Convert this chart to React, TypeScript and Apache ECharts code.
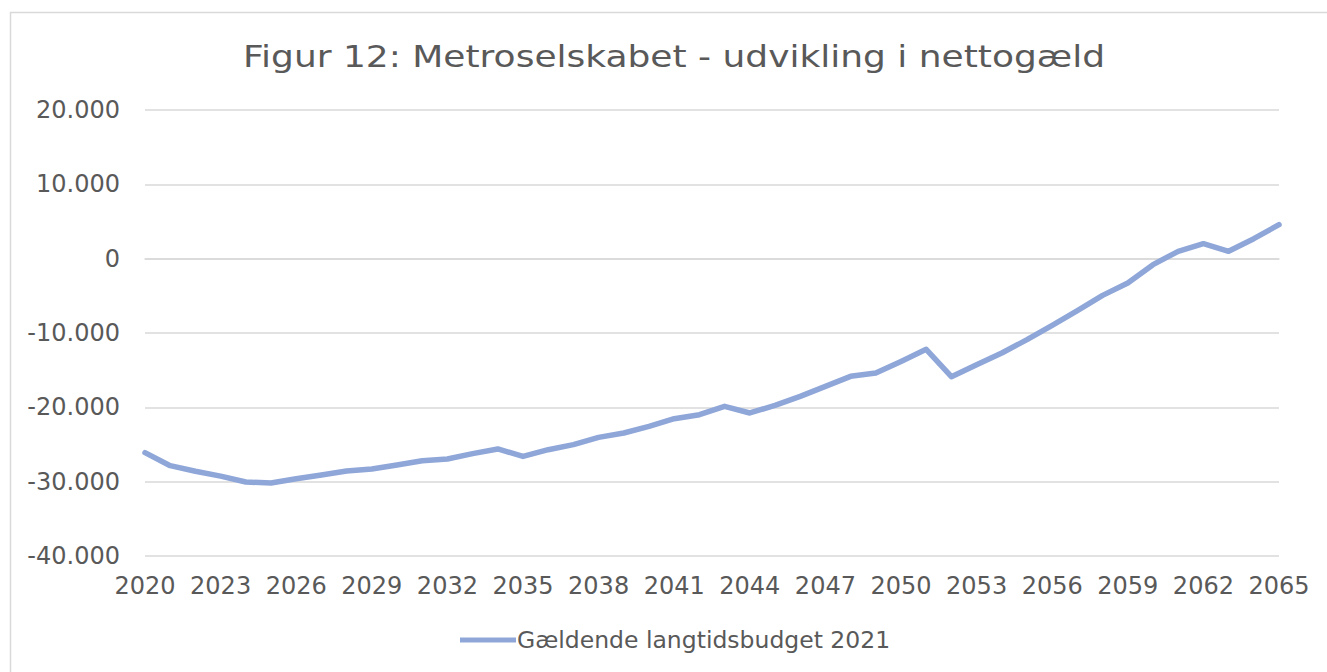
import React, { useEffect, useRef } from "react";
import * as echarts from "echarts";

const years: string[] = [];
for (let y = 2020; y <= 2065; y++) years.push(String(y));

const nettogaeld = [
  -26100, -27850, -28600, -29250, -30050, -30180, -29600, -29100, -28560, -28290,
  -27760, -27180, -26950, -26230, -25600, -26600, -25700, -25020, -24040, -23450,
  -22560, -21530, -20990, -19870, -20760, -19730, -18520, -17180, -15830, -15380,
  -13820, -12200, -15880, -14260, -12690, -10900, -8970, -7000, -4940, -3270,
  -810, 990, 2020, 990, 2690, 4570,
];

const seriesName = "Gældende langtidsbudget 2021";
const titleText = "Figur 12: Metroselskabet - udvikling i nettogæld";

const FONT = "'DejaVu Sans', 'Open Sans', sans-serif";
const TEXT = "#595959";
const LINE = "#8FA6D8";

export default function App() {
  const ref = useRef<HTMLDivElement>(null);
  useEffect(() => {
    if (!ref.current) return;
    const chart = echarts.init(ref.current, undefined, { renderer: "svg" });
    chart.setOption({
      animation: false,
      backgroundColor: "#ffffff",
      textStyle: { fontFamily: FONT, color: TEXT },
      graphic: [
        {
          type: "rect",
          shape: { x: 10.5, y: 12.5, width: 1330, height: 670 },
          style: { fill: "none", stroke: "#D9D9D9", lineWidth: 1.5 },
          silent: true,
          z: -1,
        },
        {
          type: "text",
          x: 674,
          y: 57,
          scaleX: 1.2,
          silent: true,
          style: {
            text: titleText,
            fill: TEXT,
            font: "normal 30px " + FONT,
            align: "center",
            verticalAlign: "middle",
          },
        },
      ],
      legend: {
        data: [seriesName],
        left: 460,
        top: 628,
        icon: "rect",
        itemWidth: 56,
        itemHeight: 5,
        itemGap: 4,
        padding: 0,
        itemStyle: { color: LINE },
        textStyle: { fontFamily: FONT, fontSize: 23.5, color: TEXT, padding: [0, 0, 0, -4] },
      },
      grid: { left: 145, right: 48, top: 110, bottom: 116, containLabel: false },
      xAxis: {
        type: "category",
        data: years,
        boundaryGap: false,
        axisLine: { show: true, lineStyle: { color: "#D9D9D9", width: 1.5 } },
        axisTick: { show: false },
        axisLabel: {
          interval: 2,
          fontFamily: FONT,
          fontSize: 24,
          color: TEXT,
          margin: 18,
        },
        splitLine: { show: false },
      },
      yAxis: {
        type: "value",
        min: -40000,
        max: 20000,
        interval: 10000,
        axisLine: { show: false },
        axisTick: { show: false },
        axisLabel: {
          fontFamily: FONT,
          fontSize: 24,
          color: TEXT,
          margin: 25,
          formatter: (v: number) => {
            const s = Math.abs(v).toString().replace(/\B(?=(\d{3})+(?!\d))/g, ".");
            return (v < 0 ? "-" : "") + s;
          },
        },
        splitLine: { lineStyle: { color: "#D9D9D9", width: 1.5 } },
      },
      series: [
        {
          name: seriesName,
          type: "line",
          data: nettogaeld,
          symbol: "none",
          lineStyle: { color: LINE, width: 5.5, cap: "round", join: "round" },
          itemStyle: { color: LINE },
        },
      ],
    });
    return () => chart.dispose();
  }, []);
  return (
    <div
      ref={ref}
      style={{ position: "fixed", left: 0, top: 0, width: 1327, height: 672 }}
    />
  );
}
